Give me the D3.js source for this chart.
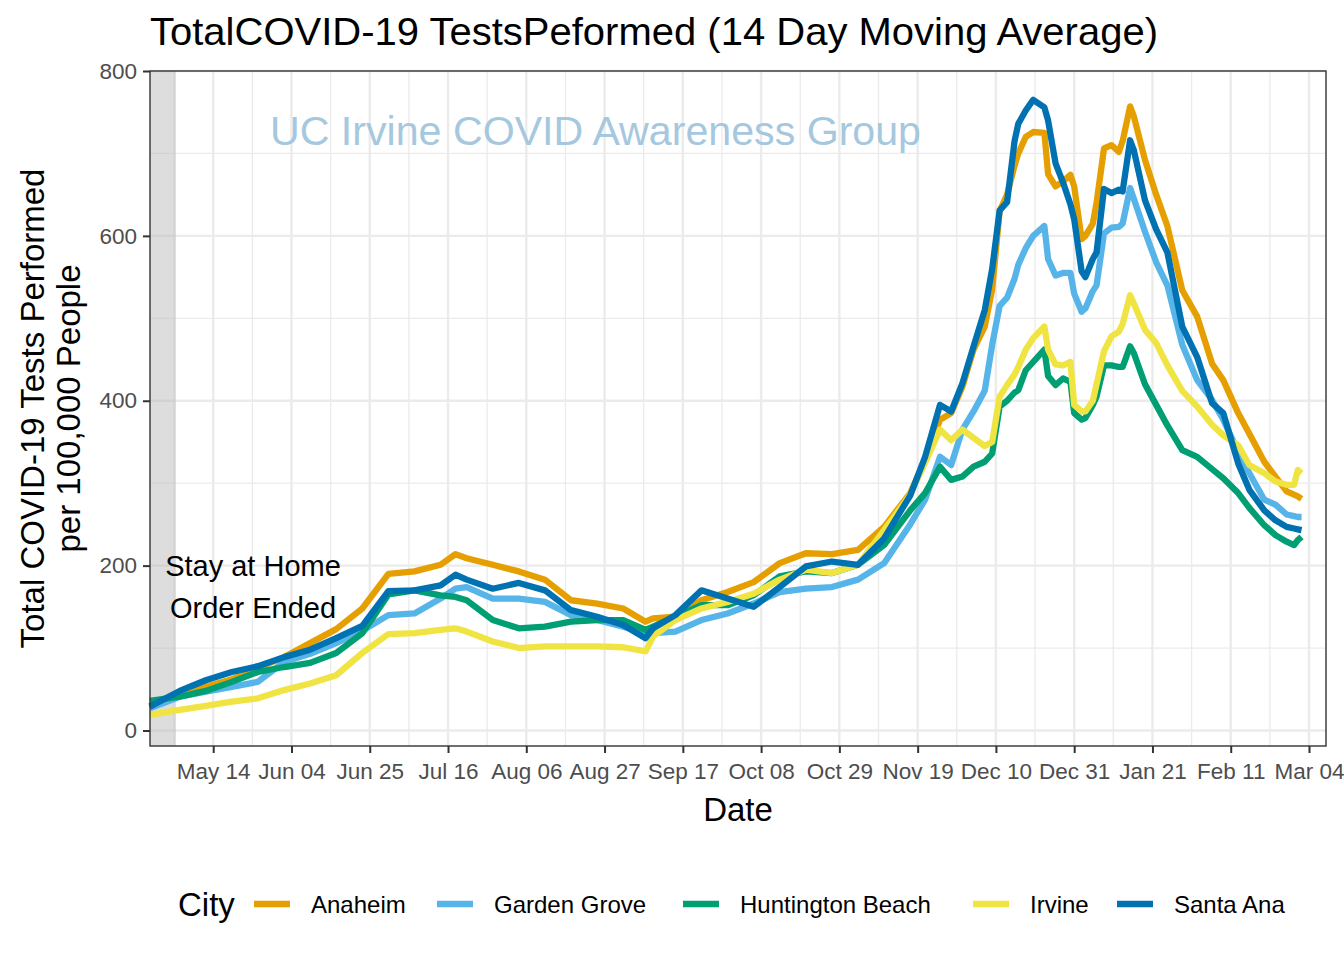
<!DOCTYPE html>
<html>
<head>
<meta charset="utf-8">
<script src="https://cdn.jsdelivr.net/npm/d3@7"></script>
<style>
  html, body { margin: 0; padding: 0; background: #ffffff; }
  svg { display: block; font-family: "Liberation Sans", Arial, Helvetica, sans-serif; }
</style>
</head>
<body>
<svg id="chart" width="1344" height="960"></svg>
<script>
// ---------------- DATA ----------------
const dates = [
  "2020-04-27","2020-05-05","2020-05-12","2020-05-19","2020-05-26","2020-06-02","2020-06-09","2020-06-16",
  "2020-06-23","2020-06-30","2020-07-07","2020-07-14","2020-07-18","2020-07-21","2020-07-28","2020-08-04",
  "2020-08-11","2020-08-18","2020-08-25","2020-09-01","2020-09-07","2020-09-09","2020-09-15","2020-09-22",
  "2020-09-29","2020-10-06","2020-10-13","2020-10-20","2020-10-27","2020-11-03","2020-11-10","2020-11-17",
  "2020-11-21","2020-11-25","2020-11-28","2020-12-01","2020-12-04","2020-12-07","2020-12-09","2020-12-11",
  "2020-12-13","2020-12-15","2020-12-16","2020-12-18","2020-12-20","2020-12-23","2020-12-24","2020-12-26",
  "2020-12-28","2020-12-30","2020-12-31","2021-01-02","2021-01-03","2021-01-05","2021-01-06","2021-01-08",
  "2021-01-10","2021-01-12","2021-01-13","2021-01-15","2021-01-16","2021-01-19","2021-01-22","2021-01-25",
  "2021-01-29","2021-02-02","2021-02-06","2021-02-09","2021-02-13","2021-02-16","2021-02-20","2021-02-23",
  "2021-02-26","2021-02-28","2021-03-01","2021-03-02"
];

const anaheim = [
  30,45,53,62,76,89,106,123, 148,190,193,201,214,209,201,193,
  183,158,154,148,132,136,138,158, 168,180,203,215,214,219,247,288,
  328,377,385,417,462,490,535,630, 650,685,700,720,726,725,675,660,
  666,674,660,596,600,615,640,706, 710,702,715,757,745,692,650,612,
  534,502,445,425,385,360,326,308, 290,286,284,281
];

const gardenGrove = [
  27,41,47,53,59,83,93,106, 121,140,142,160,172,174,160,160,
  156,140,134,126,118,118,120,134, 142,154,168,172,174,183,203,250,
  280,332,322,365,387,412,468,515, 525,548,565,585,600,612,572,552,
  555,555,530,508,512,533,540,603, 610,611,615,658,645,605,568,540,
  468,425,401,377,338,312,280,274, 262,260,259,259
];

const huntingtonBeach = [
  36,41,48,59,71,77,82,94, 118,165,170,164,162,158,134,124,
  126,132,134,134,122,126,138,152, 152,164,187,193,191,201,225,267,
  288,320,304,308,320,326,336,393, 400,410,413,437,447,462,430,419,
  427,423,385,377,379,395,405,443, 443,441,441,466,458,420,395,370,
  340,332,317,306,288,270,249,237, 229,225,231,235
];

const irvine = [
  19,25,30,35,39,49,57,67, 94,117,118,122,124,120,108,100,
  102,102,102,101,96,114,134,148, 156,166,183,195,191,201,243,286,
  325,365,352,365,355,345,350,405, 419,432,441,462,476,490,462,444,
  443,447,395,387,387,400,420,460, 478,484,493,528,518,486,470,443,
  412,393,371,358,346,322,312,302, 298,298,316,312
];

const santaAna = [
  29,48,61,71,78,89,98,112, 127,169,170,176,189,183,172,179,
  170,146,138,128,112,124,140,170, 160,150,174,199,205,201,233,285,
  332,395,387,421,466,510,560,631, 641,715,736,752,765,756,740,688,
  665,638,620,557,550,572,580,657, 652,656,654,716,704,643,608,580,
  490,453,397,385,324,292,267,255, 247,245,244,243
];

const cityNames = ["Anaheim", "Garden Grove", "Huntington Beach", "Irvine", "Santa Ana"];
const cityColors = ["#E69F00", "#56B4E9", "#009E73", "#F0E442", "#0072B2"];

const xTickDates = ["2020-05-14","2020-06-04","2020-06-25","2020-07-16","2020-08-06","2020-08-27",
  "2020-09-17","2020-10-08","2020-10-29","2020-11-19","2020-12-10","2020-12-31",
  "2021-01-21","2021-02-11","2021-03-04"];
const yTicks = [0, 200, 400, 600, 800];
const yMinorTicks = [100, 300, 500, 700];

const titleText = "TotalCOVID-19 TestsPeformed (14 Day Moving Average)";
const watermarkText = "UC Irvine COVID Awareness Group";
const annotationLines = ["Stay at Home", "Order Ended"];
const yTitleLines = ["Total COVID-19 Tests Performed", "per 100,000 People"];
const xTitle = "Date";
const legendTitle = "City";
const orderEndDate = "2020-05-04";

// ---------------- LAYOUT ----------------
const svg = d3.select("#chart");
const panel = { left: 150, top: 71, right: 1326, bottom: 746 };
const parse = d3.utcParse("%Y-%m-%d");

const x = d3.scaleUtc()
  .domain([new Date(Date.UTC(2020, 3, 27, 1)), new Date(Date.UTC(2021, 2, 8, 13, 30))])
  .range([panel.left, panel.right]);
const y = d3.scaleLinear()
  .domain([-18.8, 800])
  .range([panel.bottom, panel.top]);

const font = "'Liberation Sans', Arial, Helvetica, sans-serif";

// panel background
svg.append("rect")
  .attr("x", panel.left).attr("y", panel.top)
  .attr("width", panel.right - panel.left).attr("height", panel.bottom - panel.top)
  .attr("fill", "#ffffff");

// grid
const gridG = svg.append("g");
const majorX = xTickDates.map(parse);
const minorX = [];
const stepMs = majorX[1] - majorX[0];
const firstMinor = new Date(+majorX[0] - stepMs / 2);
for (let t = +firstMinor; t <= +x.domain()[1]; t += stepMs) {
  if (t >= +x.domain()[0]) minorX.push(new Date(t));
}
gridG.selectAll(".ymin").data(yMinorTicks).join("line")
  .attr("x1", panel.left).attr("x2", panel.right)
  .attr("y1", d => y(d)).attr("y2", d => y(d))
  .attr("stroke", "#ebebeb").attr("stroke-width", 1.3);
gridG.selectAll(".xmin").data(minorX).join("line")
  .attr("x1", d => x(d)).attr("x2", d => x(d))
  .attr("y1", panel.top).attr("y2", panel.bottom)
  .attr("stroke", "#ebebeb").attr("stroke-width", 1.3);
gridG.selectAll(".ymaj").data(yTicks).join("line")
  .attr("x1", panel.left).attr("x2", panel.right)
  .attr("y1", d => y(d)).attr("y2", d => y(d))
  .attr("stroke", "#ebebeb").attr("stroke-width", 2.4);
gridG.selectAll(".xmaj").data(majorX).join("line")
  .attr("x1", d => x(d)).attr("x2", d => x(d))
  .attr("y1", panel.top).attr("y2", panel.bottom)
  .attr("stroke", "#ebebeb").attr("stroke-width", 2.4);

// shaded stay-at-home band
svg.append("rect")
  .attr("x", panel.left).attr("y", panel.top)
  .attr("width", x(parse(orderEndDate)) - panel.left)
  .attr("height", panel.bottom - panel.top)
  .attr("fill", "#b3b3b3").attr("fill-opacity", 0.45);

// watermark
svg.append("text")
  .attr("x", 270).attr("y", 145)
  .attr("font-family", font).attr("font-size", 41)
  .attr("fill", "#a6c8df")
  .attr("textLength", 651).attr("lengthAdjust", "spacingAndGlyphs")
  .text(watermarkText);

// lines
const line = d3.line()
  .x((d, i) => x(parse(dates[i])))
  .y(d => y(d));
const seriesValues = [anaheim, gardenGrove, huntingtonBeach, irvine, santaAna];
const linesG = svg.append("g");
seriesValues.forEach((vals, k) => {
  linesG.append("path")
    .datum(vals)
    .attr("d", line)
    .attr("fill", "none")
    .attr("stroke", cityColors[k])
    .attr("stroke-width", 6.3)
    .attr("stroke-linejoin", "round")
    .attr("stroke-linecap", "butt");
});

// annotation
const annX = 253;
svg.append("text")
  .attr("x", annX).attr("y", 576)
  .attr("text-anchor", "middle")
  .attr("font-family", font).attr("font-size", 29).attr("fill", "#000")
  .text(annotationLines[0]);
svg.append("text")
  .attr("x", annX).attr("y", 618)
  .attr("text-anchor", "middle")
  .attr("font-family", font).attr("font-size", 29).attr("fill", "#000")
  .text(annotationLines[1]);

// panel border
svg.append("rect")
  .attr("x", panel.left).attr("y", panel.top)
  .attr("width", panel.right - panel.left).attr("height", panel.bottom - panel.top)
  .attr("fill", "none").attr("stroke", "#333333").attr("stroke-width", 1.4);

// axes
const xAxis = d3.axisBottom(x)
  .tickValues(majorX)
  .tickFormat(d3.utcFormat("%b %d"))
  .tickSize(7).tickPadding(10);
const xg = svg.append("g").attr("transform", `translate(0,${panel.bottom})`).call(xAxis);
xg.select(".domain").remove();
xg.selectAll(".tick line").attr("stroke", "#333333").attr("stroke-width", 2);
xg.selectAll(".tick text")
  .attr("font-family", font).attr("font-size", 22.5).attr("fill", "#4d4d4d")
  .attr("dy", "0.71em");

const yAxis = d3.axisLeft(y)
  .tickValues(yTicks)
  .tickSize(7).tickPadding(6);
const yg = svg.append("g").attr("transform", `translate(${panel.left},0)`).call(yAxis);
yg.select(".domain").remove();
yg.selectAll(".tick line").attr("stroke", "#333333").attr("stroke-width", 2);
yg.selectAll(".tick text")
  .attr("font-family", font).attr("font-size", 22.5).attr("fill", "#4d4d4d");

// title
svg.append("text")
  .attr("x", 150).attr("y", 45)
  .attr("font-family", font).attr("font-size", 39).attr("fill", "#000")
  .attr("textLength", 1008).attr("lengthAdjust", "spacingAndGlyphs")
  .text(titleText);

// axis titles
svg.append("text")
  .attr("x", (panel.left + panel.right) / 2).attr("y", 821)
  .attr("text-anchor", "middle")
  .attr("font-family", font).attr("font-size", 33).attr("fill", "#000")
  .text(xTitle);

const yMid = (panel.top + panel.bottom) / 2;
svg.append("text")
  .attr("transform", `translate(44,${yMid}) rotate(-90)`)
  .attr("text-anchor", "middle")
  .attr("font-family", font).attr("font-size", 33).attr("fill", "#000")
  .text(yTitleLines[0]);
svg.append("text")
  .attr("transform", `translate(80,${yMid}) rotate(-90)`)
  .attr("text-anchor", "middle")
  .attr("font-family", font).attr("font-size", 33).attr("fill", "#000")
  .text(yTitleLines[1]);

// legend
const legendY = 904;
svg.append("text")
  .attr("x", 178).attr("y", legendY + 12)
  .attr("font-family", font).attr("font-size", 33).attr("fill", "#000")
  .text(legendTitle);
const keyX = [254, 437, 683, 973, 1117];
cityNames.forEach((name, k) => {
  svg.append("line")
    .attr("x1", keyX[k]).attr("x2", keyX[k] + 36)
    .attr("y1", legendY).attr("y2", legendY)
    .attr("stroke", cityColors[k]).attr("stroke-width", 6.5);
  svg.append("text")
    .attr("x", keyX[k] + 57).attr("y", legendY + 9)
    .attr("font-family", font).attr("font-size", 24).attr("fill", "#000")
    .text(name);
});
</script>
</body>
</html>
